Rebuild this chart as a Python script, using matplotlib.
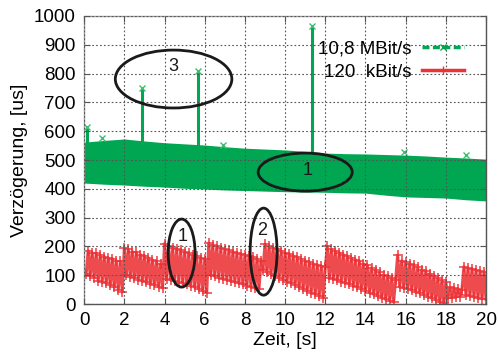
import numpy as np
import matplotlib
matplotlib.use("Agg")
import matplotlib.pyplot as plt
from matplotlib.patches import Ellipse
from matplotlib.lines import Line2D

plt.rcParams["font.family"] = ["Liberation Sans", "DejaVu Sans"]

# 10,8 MBit/s stream: envelope of the dense delay band (us), one value per second
band_t = [0, 1, 2, 3, 4, 5, 6, 7, 8, 9, 10, 11, 12, 13, 14, 15, 16, 17, 18, 19, 20]
band_hi = [562, 568, 573, 566, 560, 556, 552, 546, 541, 538, 535, 530, 524, 522, 521, 519, 517, 514, 510, 507, 503]
band_lo = [420, 416, 413, 409, 406, 402, 399, 396, 394, 392, 390, 389, 388, 386, 385, 378, 372, 370, 368, 362, 358]

# isolated delay peaks of the fast stream
spike_t = [0.15, 2.9, 5.65, 11.35]
spike_v = [615, 750, 810, 965]
# small outliers just above the band
outlier_t = [0.9, 6.9, 15.9, 19.0]
outlier_v = [576, 552, 528, 517]

# 120 kBit/s stream: delay samples every 0.1 s (us)
slow_v = [
    105, 185, 98, 178, 92, 176, 80, 170, 78, 165,
    72, 160, 65, 158, 58, 150, 50, 148, 42, 195,
    100, 190, 95, 182, 90, 180, 85, 172, 80, 168,
    75, 160, 70, 152, 66, 148, 60, 140, 56, 210,
    88, 200, 84, 196, 80, 192, 76, 186, 72, 182,
    68, 176, 62, 170, 58, 166, 52, 160, 46, 156,
    40, 212, 100, 205, 96, 200, 92, 195, 88, 190,
    84, 186, 80, 182, 76, 178, 72, 174, 68, 170,
    64, 166, 60, 162, 56, 158, 52, 150, 120, 208,
    110, 200, 104, 196, 96, 190, 90, 184, 84, 178,
    78, 174, 72, 168, 66, 162, 58, 156, 52, 150,
    46, 146, 40, 140, 34, 136, 28, 132, 22, 128,
    200, 90, 190, 86, 184, 82, 178, 78, 172, 74,
    166, 70, 160, 64, 154, 58, 148, 52, 140, 46,
    134, 40, 126, 34, 118, 28, 110, 22, 102, 16,
    96, 12, 90, 8, 84, 170, 60, 150, 56, 146,
    52, 140, 48, 134, 42, 128, 38, 120, 32, 114,
    26, 106, 20, 98, 14, 90, 8, 82, 4, 75,
    20, 58, 22, 55, 24, 52, 26, 50, 130, 30,
    125, 28, 122, 24, 118, 20, 114, 18, 110, 16,
]
slow_t = np.arange(1, len(slow_v) + 1) * 0.1

x_ticks = list(range(0, 21, 2))
y_ticks = list(range(0, 1001, 100))

GREEN = "#00a651"
RED = "#ec3237"

fig = plt.figure(figsize=(4.98, 3.54), dpi=100)
ax = fig.add_axes([0.169, 0.141, 0.807, 0.814])

ax.fill_between(band_t, band_lo, band_hi, color=GREEN, lw=0, zorder=1)
ax.vlines(spike_t, 470, spike_v, color=GREEN, lw=2.2, zorder=2)
ax.plot(spike_t + outlier_t, spike_v + outlier_v, ls="none", marker="x",
        ms=5, mew=1.0, color="#3cc070", zorder=2)

ax.plot(slow_t, slow_v, color=RED, lw=2.2, alpha=0.88, marker="+",
        ms=7, mew=1.2, zorder=2)

# annotation ellipses with their numbers
ellipses = [
    (4.45, 781, 5.8, 201, "3", 4.43, 823),
    (11.0, 458, 4.68, 132, "1", 11.1, 462),
    (4.85, 177, 1.34, 236, "1", 4.88, 233),
    (8.93, 182, 1.34, 302, "2", 8.86, 257),
]
for cx, cy, w, h, label, tx, ty in ellipses:
    ax.add_patch(Ellipse((cx, cy), w, h, fill=False, ec="#1a1a1a",
                         lw=2.0, zorder=5))
    ax.text(tx, ty, label, ha="center", va="center", fontsize=13,
            color="#1a1a1a", zorder=6)

ax.set_xlim(0, 20)
ax.set_ylim(0, 1000)
ax.set_xticks(x_ticks)
ax.set_yticks(y_ticks)
ax.tick_params(direction="in", length=4, width=0.8, color="#555555",
               labelsize=13.5, top=True, right=True, pad=6)
ax.grid(True, color="#555555", lw=0.8, ls=(0, (1.5, 2)))
ax.set_axisbelow(False)
for side in ["right", "bottom"]:
    ax.spines[side].set_color("#555555")
    ax.spines[side].set_linewidth(1.0)
for side in ["left", "top"]:
    ax.spines[side].set_color("#9a9a9a")
    ax.spines[side].set_linestyle((0, (1, 1)))
    ax.spines[side].set_linewidth(1.0)

ax.set_xlabel("Zeit, [s]", fontsize=14, labelpad=2)
ax.set_ylabel("Verzögerung, [us]", fontsize=14, labelpad=4)

handles = [
    Line2D([], [], color=GREEN, lw=2.5, ls=(0, (2, 1)), marker="x", ms=5,
           mew=1.0, markevery=[1]),
    Line2D([], [], color=RED, lw=2.5, marker="+", ms=6, mew=1.0),
]
leg = ax.legend(handles, ["10,8 MBit/s", "120  kBit/s"], loc="upper right",
                bbox_to_anchor=(0.972, 0.955), markerfirst=False, frameon=False,
                fontsize=13.5, handlelength=2.2, handletextpad=0.6,
                labelspacing=0.35, borderaxespad=0.2)
leg.set_zorder(7)

fig.savefig("out.png", dpi=100)
